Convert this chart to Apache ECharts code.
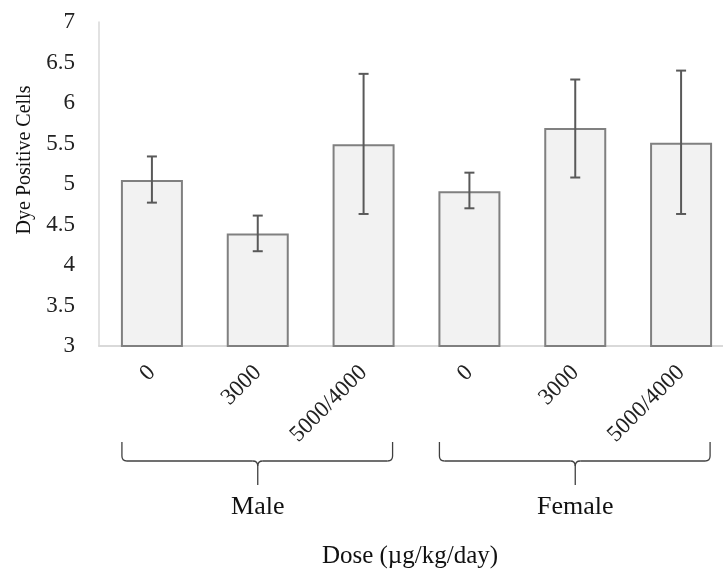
<!DOCTYPE html>
<html>
<head>
<meta charset="utf-8">
<script src="https://cdn.jsdelivr.net/npm/echarts@6/dist/echarts.min.js"></script>
<style>
  html, body { margin: 0; padding: 0; background: #fff; }
  #chart { width: 723px; height: 570px; }
</style>
</head>
<body>
<div id="chart"></div>
<script>
// doses per bar, grouped by sex
var doses = ['0', '3000', '5000/4000', '0', '3000', '5000/4000'];
var groups = ['Male', 'Female'];
var groupSize = 3;
var means = [5.05, 4.39, 5.49, 4.91, 5.69, 5.51];
var errLow = [4.77, 4.17, 4.63, 4.70, 5.08, 4.63];
var errHigh = [5.34, 4.61, 6.36, 5.14, 6.29, 6.40];
var yTicks = [3, 3.5, 4, 4.5, 5, 5.5, 6, 6.5, 7];

var font = 'Liberation Serif';
var cats = doses.map(function (d, i) { return i; });

var myChart = echarts.init(document.getElementById('chart'));

var option = {
    animation: false,
    grid: { left: 99, top: 22, width: 635, height: 324, outerBoundsMode: 'none' },
    xAxis: {
        type: 'category',
        data: cats,
        axisLine: { lineStyle: { color: '#d9d9d9', width: 2 } },
        axisTick: { show: false },
        axisLabel: {
            rotate: 45,
            margin: 23,
            fontFamily: font,
            fontSize: 23,
            color: '#222',
            formatter: function (v, i) { return doses[i]; }
        }
    },
    yAxis: {
        type: 'value',
        min: yTicks[0],
        max: yTicks[yTicks.length - 1],
        interval: 0.5,
        splitLine: { show: false },
        axisLine: { show: true, lineStyle: { color: '#d9d9d9', width: 1.5 } },
        axisLabel: { margin: 24, fontFamily: font, fontSize: 23, color: '#222' }
    },
    series: [{
        type: 'bar',
        data: means,
        barWidth: 62,
        itemStyle: { color: '#f2f2f2', borderColor: '#808080', borderWidth: 2 }
    }, {
        type: 'custom',
        data: cats.map(function (c, i) { return [c, errLow[i], errHigh[i]]; }),
        renderItem: function (params, api) {
            var lo = api.coord([api.value(0), api.value(1)]);
            var hi = api.coord([api.value(0), api.value(2)]);
            var x = lo[0], w = 5;
            var st = { stroke: '#595959', lineWidth: 2 };
            return {
                type: 'group',
                children: [
                    { type: 'line', shape: { x1: x, y1: lo[1], x2: x, y2: hi[1] }, style: st },
                    { type: 'line', shape: { x1: x - w, y1: lo[1], x2: x + w, y2: lo[1] }, style: st },
                    { type: 'line', shape: { x1: x - w, y1: hi[1], x2: x + w, y2: hi[1] }, style: st }
                ]
            };
        },
        z: 10
    }]
};

myChart.setOption(option);

// brackets + group labels, placed from the category axis
var graphics = [];
var bst = { stroke: '#404040', lineWidth: 1.3, fill: null };
function seg(x1, y1, x2, y2) {
    graphics.push({ type: 'line', shape: { x1: x1, y1: y1, x2: x2, y2: y2 }, style: bst });
}
function curve(x1, y1, cx, cy, x2, y2) {
    graphics.push({ type: 'bezierCurve', shape: { x1: x1, y1: y1, cpx1: cx, cpy1: cy, x2: x2, y2: y2 }, style: bst });
}
groups.forEach(function (g, k) {
    var first = myChart.convertToPixel({ xAxisIndex: 0 }, k * groupSize);
    var last = myChart.convertToPixel({ xAxisIndex: 0 }, k * groupSize + groupSize - 1);
    var x0 = first - 30, x1 = last + 29, xc = (first + last) / 2;
    var yt = 442, yh = 461, yb = 485, r = 5;
    seg(x0, yt, x0, yh - r);
    curve(x0, yh - r, x0, yh, x0 + r, yh);
    seg(x0 + r, yh, xc - r, yh);
    curve(xc - r, yh, xc, yh, xc, yh + r);
    curve(xc + r, yh, xc, yh, xc, yh + r);
    seg(xc, yh + r, xc, yb);
    seg(xc + r, yh, x1 - r, yh);
    curve(x1 - r, yh, x1, yh, x1, yh - r);
    seg(x1, yh - r, x1, yt);
    graphics.push({
        type: 'text',
        x: xc, y: 507,
        style: { text: g, font: '26px "' + font + '"', fill: '#111', align: 'center', verticalAlign: 'middle' }
    });
});
graphics.push({
    type: 'text',
    x: 410, y: 556,
    style: { text: 'Dose (µg/kg/day)', font: '25px "' + font + '"', fill: '#111', align: 'center', verticalAlign: 'middle' }
});
graphics.push({
    type: 'text',
    x: 25, y: 160,
    rotation: Math.PI / 2,
    style: { text: 'Dye Positive Cells', font: '20px "' + font + '"', fill: '#111', align: 'center', verticalAlign: 'middle' }
});
myChart.setOption({ graphic: graphics });
</script>
</body>
</html>
